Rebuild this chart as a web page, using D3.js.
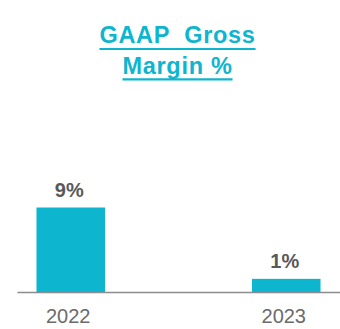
<!DOCTYPE html>
<html>
<head>
<meta charset="utf-8">
<script src="https://cdn.jsdelivr.net/npm/d3@7"></script>
<style>
  html, body { margin: 0; padding: 0; background: #fff; }
  svg { display: block; }
</style>
</head>
<body>
<script>
const categories = ["2022", "2023"];
const values = [9.0, 1.4];
const valueLabels = ["9%", "1%"];
const titleLines = ["GAAP  Gross", "Margin %"];

const W = 340, H = 329;
const font = "'Liberation Sans', Arial, Helvetica, sans-serif";
const cyan = "#0EB5CF";

const svg = d3.select("body").append("svg").attr("width", W).attr("height", H);

// Title
const titleY = [43, 73.8];
const underlineY = [49, 79.4];
titleLines.forEach((t, i) => {
  const txt = svg.append("text")
    .attr("x", 177.5).attr("y", titleY[i])
    .attr("text-anchor", "middle")
    .style("white-space", "pre")
    .style("font-family", font).style("font-weight", "bold").style("font-size", "23.5px")
    .style("letter-spacing", "0.7px")
    .attr("fill", cyan)
    .text(t);
  const bb = txt.node().getBBox();
  svg.append("line")
    .attr("x1", bb.x).attr("x2", bb.x + bb.width)
    .attr("y1", underlineY[i]).attr("y2", underlineY[i])
    .attr("stroke", cyan).attr("stroke-width", 2.2);
});

// Scales
const x = d3.scaleBand().domain(categories).range([17, 340]).paddingInner(0.682).paddingOuter(0.0904);
const y = d3.scaleLinear().domain([0, 9]).range([292, 207.5]);

// Bars
svg.selectAll("rect.bar").data(values).enter().append("rect")
  .attr("class", "bar")
  .attr("x", (d, i) => x(categories[i]))
  .attr("width", x.bandwidth())
  .attr("y", d => y(d))
  .attr("height", d => y(0) - y(d))
  .attr("fill", cyan);

// Value labels
svg.selectAll("text.val").data(values).enter().append("text")
  .attr("class", "val")
  .attr("x", (d, i) => x(categories[i]) + x.bandwidth() / 2 - 1.5)
  .attr("y", d => y(d) - 10.8)
  .attr("text-anchor", "middle")
  .style("font-family", font).style("font-weight", "bold").style("font-size", "20px")
  .attr("fill", "#595959")
  .text((d, i) => valueLabels[i]);

// Axis
const axis = svg.append("g").attr("transform", `translate(0,${y(0)})`)
  .call(d3.axisBottom(x).tickSize(0).tickPadding(16.5));
axis.select(".domain").attr("stroke", "#8c8c8c").attr("stroke-width", 1.6);
axis.selectAll(".tick text")
  .style("font-family", font).style("font-size", "20px").attr("fill", "#6b6b6b")
  .attr("dx", -2.5);
</script>
</body>
</html>
